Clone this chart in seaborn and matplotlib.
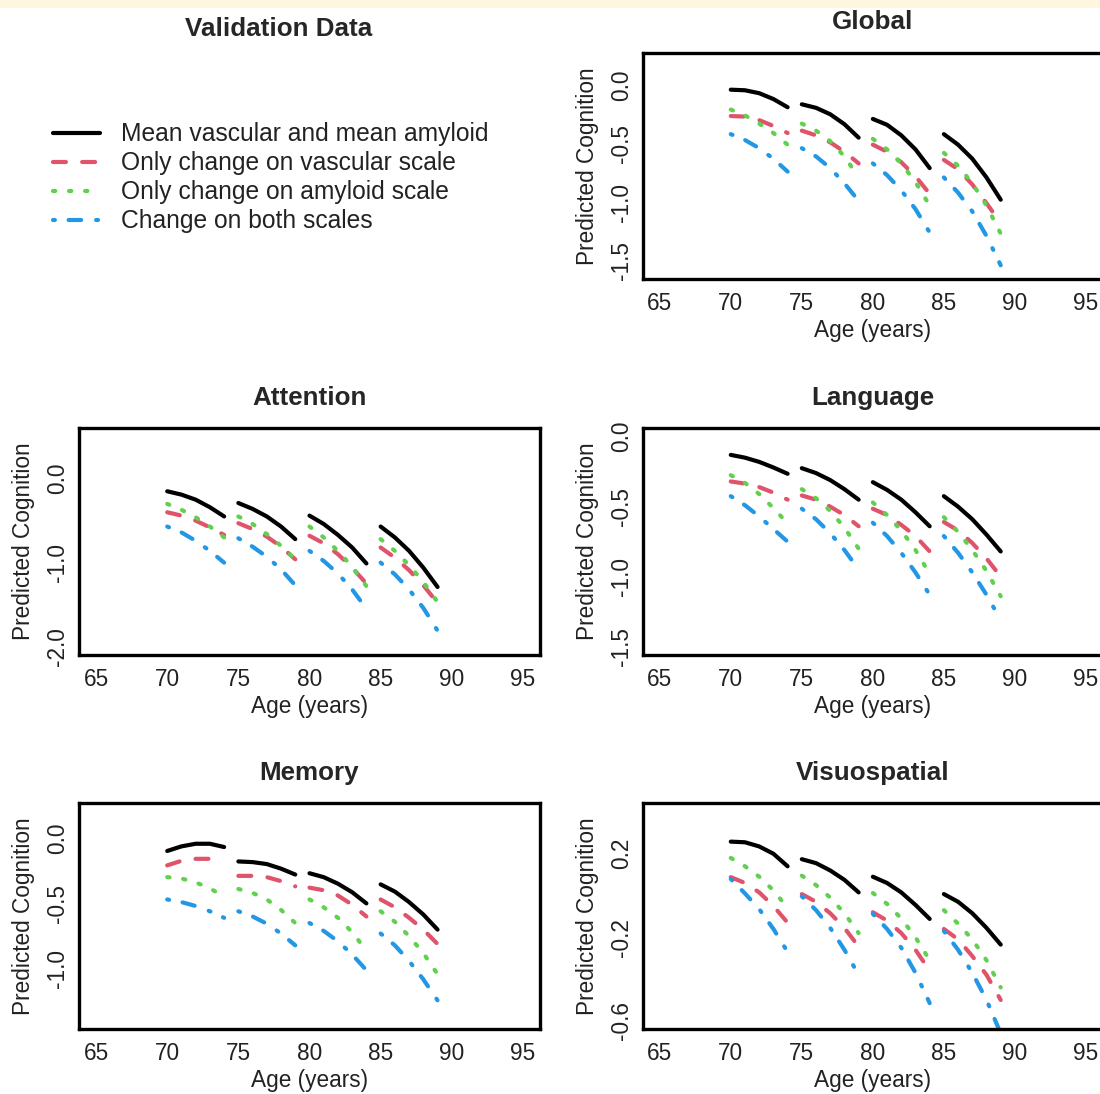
import matplotlib
matplotlib.use("Agg")
import matplotlib.pyplot as plt
from matplotlib.lines import Line2D
from matplotlib.patches import Rectangle
import pandas as pd
import seaborn as sns

# ---------------- data ----------------
SEGMENT_STARTS = [70, 75, 80, 85]
AGE_OFFSETS = [0, 1, 2, 3, 4]
SCENARIOS = ["Mean vascular and mean amyloid", "Only change on vascular scale",
             "Only change on amyloid scale", "Change on both scales"]
COLORS = ["#000000", "#DF536B", "#61D04F", "#2297E6"]
XTICKS = [65, 70, 75, 80, 85, 90, 95]

GLOBAL_MEAN = [-0.04, -0.045, -0.07, -0.12, -0.19, -0.165, -0.195, -0.25, -0.335, -0.45,
               -0.29, -0.34, -0.43, -0.55, -0.71, -0.42, -0.51, -0.63, -0.79, -0.98]
GLOBAL_VASC = [-0.265, -0.27, -0.30, -0.35, -0.41, -0.39, -0.43, -0.49, -0.57, -0.67,
               -0.51, -0.57, -0.66, -0.78, -0.93, -0.64, -0.72, -0.85, -1.01, -1.18]
GLOBAL_AMY = [-0.21, -0.26, -0.33, -0.41, -0.51, -0.33, -0.39, -0.48, -0.61, -0.79,
              -0.46, -0.55, -0.67, -0.83, -1.03, -0.58, -0.69, -0.84, -1.03, -1.27]
GLOBAL_BOTH = [-0.42, -0.47, -0.54, -0.63, -0.74, -0.54, -0.61, -0.71, -0.84, -0.99,
               -0.67, -0.77, -0.90, -1.06, -1.26, -0.79, -0.92, -1.08, -1.29, -1.54]

ATTN_MEAN = [-0.15, -0.19, -0.25, -0.34, -0.45, -0.29, -0.36, -0.45, -0.57, -0.72,
             -0.44, -0.54, -0.67, -0.82, -1.01, -0.57, -0.70, -0.86, -1.06, -1.29]
ATTN_VASC = [-0.40, -0.44, -0.50, -0.58, -0.67, -0.53, -0.60, -0.69, -0.81, -0.96,
             -0.68, -0.77, -0.90, -1.06, -1.25, -0.82, -0.94, -1.09, -1.27, -1.48]
ATTN_AMY = [-0.30, -0.37, -0.46, -0.57, -0.70, -0.45, -0.54, -0.66, -0.80, -0.96,
            -0.57, -0.70, -0.86, -1.05, -1.28, -0.72, -0.86, -1.03, -1.23, -1.47]
ATTN_BOTH = [-0.57, -0.64, -0.74, -0.86, -1.00, -0.71, -0.81, -0.93, -1.08, -1.27,
             -0.86, -0.98, -1.13, -1.32, -1.55, -1.00, -1.14, -1.32, -1.54, -1.81]

LANG_MEAN = [-0.13, -0.15, -0.18, -0.22, -0.265, -0.225, -0.26, -0.31, -0.375, -0.45,
             -0.325, -0.38, -0.45, -0.54, -0.64, -0.425, -0.50, -0.59, -0.70, -0.82]
LANG_VASC = [-0.32, -0.335, -0.36, -0.40, -0.45, -0.42, -0.45, -0.50, -0.56, -0.64,
             -0.515, -0.56, -0.63, -0.71, -0.82, -0.61, -0.67, -0.76, -0.87, -1.00]
LANG_AMY = [-0.275, -0.33, -0.41, -0.51, -0.62, -0.375, -0.44, -0.53, -0.65, -0.80,
            -0.47, -0.56, -0.67, -0.81, -0.98, -0.575, -0.68, -0.81, -0.96, -1.14]
LANG_BOTH = [-0.425, -0.49, -0.57, -0.66, -0.75, -0.515, -0.59, -0.69, -0.81, -0.95,
             -0.615, -0.71, -0.83, -0.97, -1.13, -0.71, -0.83, -0.97, -1.13, -1.31]

MEM_MEAN = [-0.10, -0.065, -0.045, -0.045, -0.07, -0.18, -0.185, -0.20, -0.235, -0.28,
            -0.27, -0.30, -0.35, -0.415, -0.50, -0.355, -0.41, -0.49, -0.585, -0.70]
MEM_VASC = [-0.21, -0.175, -0.16, -0.16, -0.175, -0.29, -0.29, -0.30, -0.33, -0.37,
            -0.38, -0.40, -0.44, -0.51, -0.60, -0.47, -0.53, -0.61, -0.70, -0.81]
MEM_AMY = [-0.30, -0.31, -0.34, -0.385, -0.45, -0.39, -0.42, -0.47, -0.55, -0.65,
           -0.47, -0.53, -0.61, -0.72, -0.86, -0.56, -0.64, -0.75, -0.88, -1.04]
MEM_BOTH = [-0.47, -0.49, -0.52, -0.56, -0.61, -0.56, -0.60, -0.655, -0.73, -0.82,
            -0.65, -0.71, -0.79, -0.89, -1.01, -0.73, -0.82, -0.94, -1.08, -1.24]

VIS_MEAN = [0.258, 0.255, 0.235, 0.20, 0.14, 0.174, 0.155, 0.12, 0.075, 0.015,
            0.09, 0.06, 0.015, -0.045, -0.112, 0.007, -0.03, -0.085, -0.155, -0.235]
VIS_VASC = [0.088, 0.06, 0.015, -0.05, -0.13, 0.007, -0.03, -0.085, -0.155, -0.245,
            -0.08, -0.12, -0.18, -0.26, -0.36, -0.16, -0.21, -0.29, -0.38, -0.50]
VIS_AMY = [0.18, 0.14, 0.09, 0.025, -0.06, 0.095, 0.05, -0.01, -0.085, -0.18,
           0.012, -0.04, -0.11, -0.20, -0.31, -0.07, -0.135, -0.21, -0.31, -0.44]
VIS_BOTH = [0.079, 0.01, -0.065, -0.16, -0.27, -0.004, -0.07, -0.155, -0.26, -0.38,
            -0.088, -0.16, -0.25, -0.37, -0.515, -0.17, -0.26, -0.37, -0.50, -0.66]

GLOBAL_YTICKS = [0.0, -0.5, -1.0, -1.5]
GLOBAL_YLABELS = ["0.0", "-0.5", "-1.0", "-1.5"]
ATTN_YTICKS = [0.5, 0.0, -0.5, -1.0, -1.5, -2.0]
ATTN_YLABELS = ["", "0.0", "", "-1.0", "", "-2.0"]
LANG_YTICKS = [0.0, -0.5, -1.0, -1.5]
LANG_YLABELS = ["0.0", "-0.5", "-1.0", "-1.5"]
MEM_YTICKS = [0.0, -0.5, -1.0]
MEM_YLABELS = ["0.0", "-0.5", "-1.0"]
VIS_YTICKS = [0.4, 0.2, 0.0, -0.2, -0.4, -0.6]
VIS_YLABELS = ["", "0.2", "", "-0.2", "", "-0.6"]

# ---------------- style ----------------
sns.set_style("white")
plt.rcParams["font.family"] = ["Liberation Sans", "DejaVu Sans"]
plt.rcParams["lines.scale_dashes"] = True

LW = 3.0
DASHES = ["", (3.1, 3.9), (0.55, 3.3), (0.45, 3.3, 3.0, 3.6)]
FS = 16.3
TFS = 18.7

W, H = 1100, 1094
fig = plt.figure(figsize=(W / 100, H / 100), dpi=100)
fig.patches.append(Rectangle((0, 1 - 8 / H), 1, 8 / H, transform=fig.transFigure,
                             facecolor="#FEF7E0", edgecolor="none", zorder=0))

col_px = [(79, 540), (642.7, 1103)]
row_px = [(52.7, 279.3), (428.3, 655.0), (803.0, 1029.2)]


def make_ax(r, c):
    l, rr = col_px[c]
    t, b = row_px[r]
    return fig.add_axes([l / W, 1 - b / H, (rr - l) / W, (b - t) / H])


def panel_frame(series):
    rows = []
    for scen, vals in zip(SCENARIOS, series):
        k = 0
        for seg, start in enumerate(SEGMENT_STARTS):
            for off in AGE_OFFSETS:
                rows.append((scen, seg, start + off, vals[k]))
                k += 1
    return pd.DataFrame(rows, columns=["scenario", "segment", "age", "cognition"])


panels = [
    ("Global", 0, 1, [GLOBAL_MEAN, GLOBAL_VASC, GLOBAL_AMY, GLOBAL_BOTH], (-1.66, 0.276), GLOBAL_YTICKS, GLOBAL_YLABELS),
    ("Attention", 1, 0, [ATTN_MEAN, ATTN_VASC, ATTN_AMY, ATTN_BOTH], (-2.1, 0.6), ATTN_YTICKS, ATTN_YLABELS),
    ("Language", 1, 1, [LANG_MEAN, LANG_VASC, LANG_AMY, LANG_BOTH], (-1.56, 0.06), LANG_YTICKS, LANG_YLABELS),
    ("Memory", 2, 0, [MEM_MEAN, MEM_VASC, MEM_AMY, MEM_BOTH], (-1.46, 0.266), MEM_YTICKS, MEM_YLABELS),
    ("Visuospatial", 2, 1, [VIS_MEAN, VIS_VASC, VIS_AMY, VIS_BOTH], (-0.64, 0.443), VIS_YTICKS, VIS_YLABELS),
]

palette = dict(zip(SCENARIOS, COLORS))
dash_map = dict(zip(SCENARIOS, DASHES))

for title, r, c, series, ylim, yt, yl in panels:
    ax = make_ax(r, c)
    df = panel_frame(series)
    sns.lineplot(data=df, x="age", y="cognition", hue="scenario", style="scenario",
                 units="segment", estimator=None, hue_order=SCENARIOS,
                 style_order=SCENARIOS, palette=palette, dashes=dash_map,
                 linewidth=LW, legend=False, ax=ax, sort=True,
                 dash_capstyle="round", solid_capstyle="round")
    ax.set_xlim(63.8, 96.2)
    ax.set_ylim(*ylim)
    ax.set_xticks(XTICKS)
    ax.set_xticklabels([str(v) for v in XTICKS])
    ax.set_yticks(yt)
    ax.set_yticklabels(yl, rotation=90, va="center")
    ax.tick_params(axis="both", direction="out", length=5.5, width=0.8,
                   color="#222222", labelsize=FS, labelcolor="#222222")
    ax.tick_params(axis="x", pad=3.5)
    ax.tick_params(axis="y", pad=1.5)
    for s in ax.spines.values():
        s.set_linewidth(2.4)
        s.set_color("black")
        s.set_visible(True)
    ax.set_xlabel("Age (years)", fontsize=FS, color="#222222")
    ax.set_ylabel("Predicted Cognition", fontsize=FS, color="#222222")
    ax.xaxis.set_label_coords(0.5, -40 / 226.6)
    ax.yaxis.set_label_coords(-44 / 461, 0.5)
    ax.set_title(title, fontsize=TFS, fontweight="bold", pad=16.8)
    ax.grid(False)

fig.text(279 / W, 1 - 35.5 / H, "Validation Data", fontsize=TFS, fontweight="bold",
         ha="center", va="baseline")

handles = [Line2D([0], [0], color=col, lw=LW, dashes=d if d else (None, None),
                  dash_capstyle="round", solid_capstyle="round")
           for col, d in zip(COLORS, DASHES)]
handles[0].set_linestyle("-")
fig.legend(handles, SCENARIOS, loc="upper left", bbox_to_anchor=(53 / W, 1 - 122.5 / H),
           frameon=False, fontsize=17.7, handlelength=1.9, handletextpad=0.87,
           labelspacing=0.2, borderpad=0, borderaxespad=0, labelcolor="#222222")

fig.savefig("out.png", dpi=100)
